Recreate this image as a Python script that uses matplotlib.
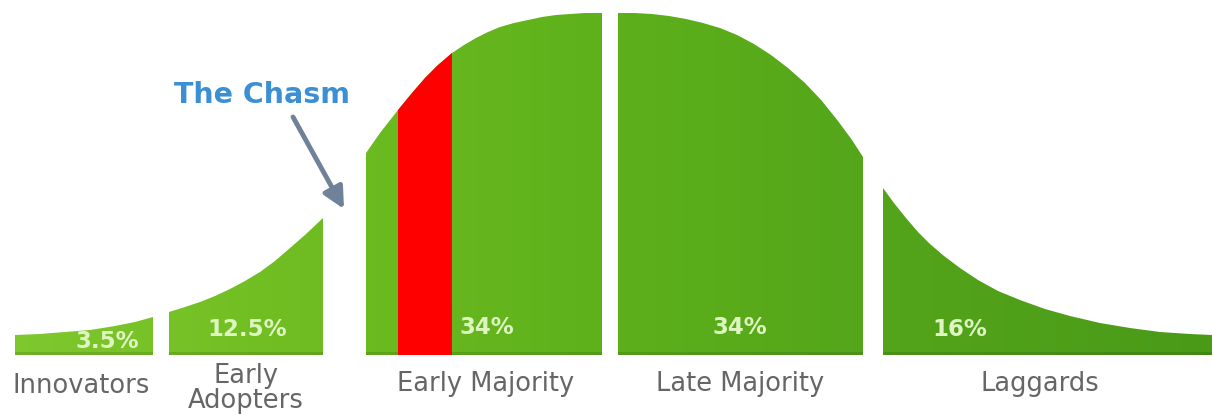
import matplotlib.pyplot as plt
import numpy as np
from matplotlib.patches import Polygon
from matplotlib.colors import to_rgb

# adopter groups and their share
names = ['Innovators', 'Early\nAdopters', 'Early Majority', 'Late Majority', 'Laggards']
shares = ['3.5%', '12.5%', '34%', '34%', '16%']

# top edge of each piece of the bell curve
# (x in px, height above the baseline in px)
innovators_x = [15, 40, 65, 90, 115, 135, 153]
innovators_h = [20, 21, 23, 25, 29, 33, 38]
adopters_x = [169, 185, 200, 215, 230, 245, 260, 275, 290, 305, 323]
adopters_h = [43, 48, 53, 59, 66, 74, 83, 94, 107, 120, 137]
early_x = [366, 380, 398, 412, 425, 438, 452, 464, 476, 488, 500, 514, 528, 542, 556, 570, 585, 602]
early_h = [202, 222, 245, 262, 277, 290, 302, 310, 317, 323, 328, 332, 335, 338, 340, 341, 342, 342]
late_x = [618, 635, 652, 669, 686, 703, 720, 737, 754, 771, 788, 805, 822, 838, 852, 863]
late_h = [342, 342, 341, 339, 336, 332, 327, 320, 311, 300, 287, 272, 254, 234, 215, 198]
laggard_x = [883, 894, 906, 918, 930, 944, 960, 978, 998, 1020, 1045, 1070, 1100, 1130, 1160, 1190, 1212]
laggard_h = [167, 152, 137, 123, 111, 99, 87, 75, 64, 55, 46, 39, 32, 27, 23, 21, 20]

# red strip inside the early majority
red_x = [398, 412, 425, 438, 452]
red_h = [245, 262, 277, 290, 302]

pieces = [(innovators_x, innovators_h), (adopters_x, adopters_h),
          (early_x, early_h), (late_x, late_h), (laggard_x, laggard_h)]

W, H = 1213, 415
fig = plt.figure(figsize=(W / 100, H / 100), dpi=100)
ax = fig.add_axes([0, 0, 1, 1])
ax.set_xlim(0, W)
ax.set_ylim(-60, 355)
ax.axis('off')


def outline(xs, hs):
    return [(xs[0], 0)] + list(zip(xs, hs)) + [(xs[-1], 0)]


# green fill: light lime on the left to darker green on the right
stops_x = [0, 300, 600, 900, 1213]
stops_c = [to_rgb(c) for c in ['#80c82e', '#6fbd22', '#5eb11b', '#53a41a', '#4a9a18']]
cols = np.arange(W)
rows = np.arange(356)
img = np.zeros((len(rows), W, 3))
for k in range(3):
    img[:, :, k] = np.interp(cols, stops_x, [c[k] for c in stops_c])[None, :]
shade = np.where(rows < 3, 0.88, 1.0)[:, None, None]
img = img * shade

for xs, hs in pieces:
    poly = Polygon(outline(xs, hs), closed=True, fill=False, lw=0)
    ax.add_patch(poly)
    im = ax.imshow(img, extent=[0, W, 0, 356], origin='lower', aspect='auto',
                   interpolation='bilinear', zorder=1)
    im.set_clip_path(poly)

ax.add_patch(Polygon(outline(red_x, red_h), closed=True, facecolor='#ff0000',
                     edgecolor='none', zorder=2))

# percentages
share_x = [107, 247, 487, 740, 960]
share_y = [14, 25, 27, 27, 25]
for x, y, s in zip(share_x, share_y, shares):
    ax.text(x, y, s, ha='center', va='center', fontsize=16.5, fontweight='bold',
            color='#def5c2', family='DejaVu Sans', zorder=3)

# group names
name_x = [81, 246, 486, 740, 1040]
name_y = [-31, -33, -29, -29, -29]
for x, y, s in zip(name_x, name_y, names):
    ax.text(x, y, s, ha='center', va='center', fontsize=18.5, color='#666666',
            family='DejaVu Sans', linespacing=0.95, zorder=3)

# the chasm callout
ax.text(262, 260, 'The Chasm', ha='center', va='center', fontsize=20.5,
        fontweight='bold', color='#3b8fd4', family='DejaVu Sans')
ax.annotate('', xy=(344, 146), xytext=(293, 238),
            arrowprops=dict(arrowstyle='-|>', lw=3.5, color='#6f8299',
                            mutation_scale=32, shrinkA=0, shrinkB=0))

fig.savefig('out.png', dpi=100)
